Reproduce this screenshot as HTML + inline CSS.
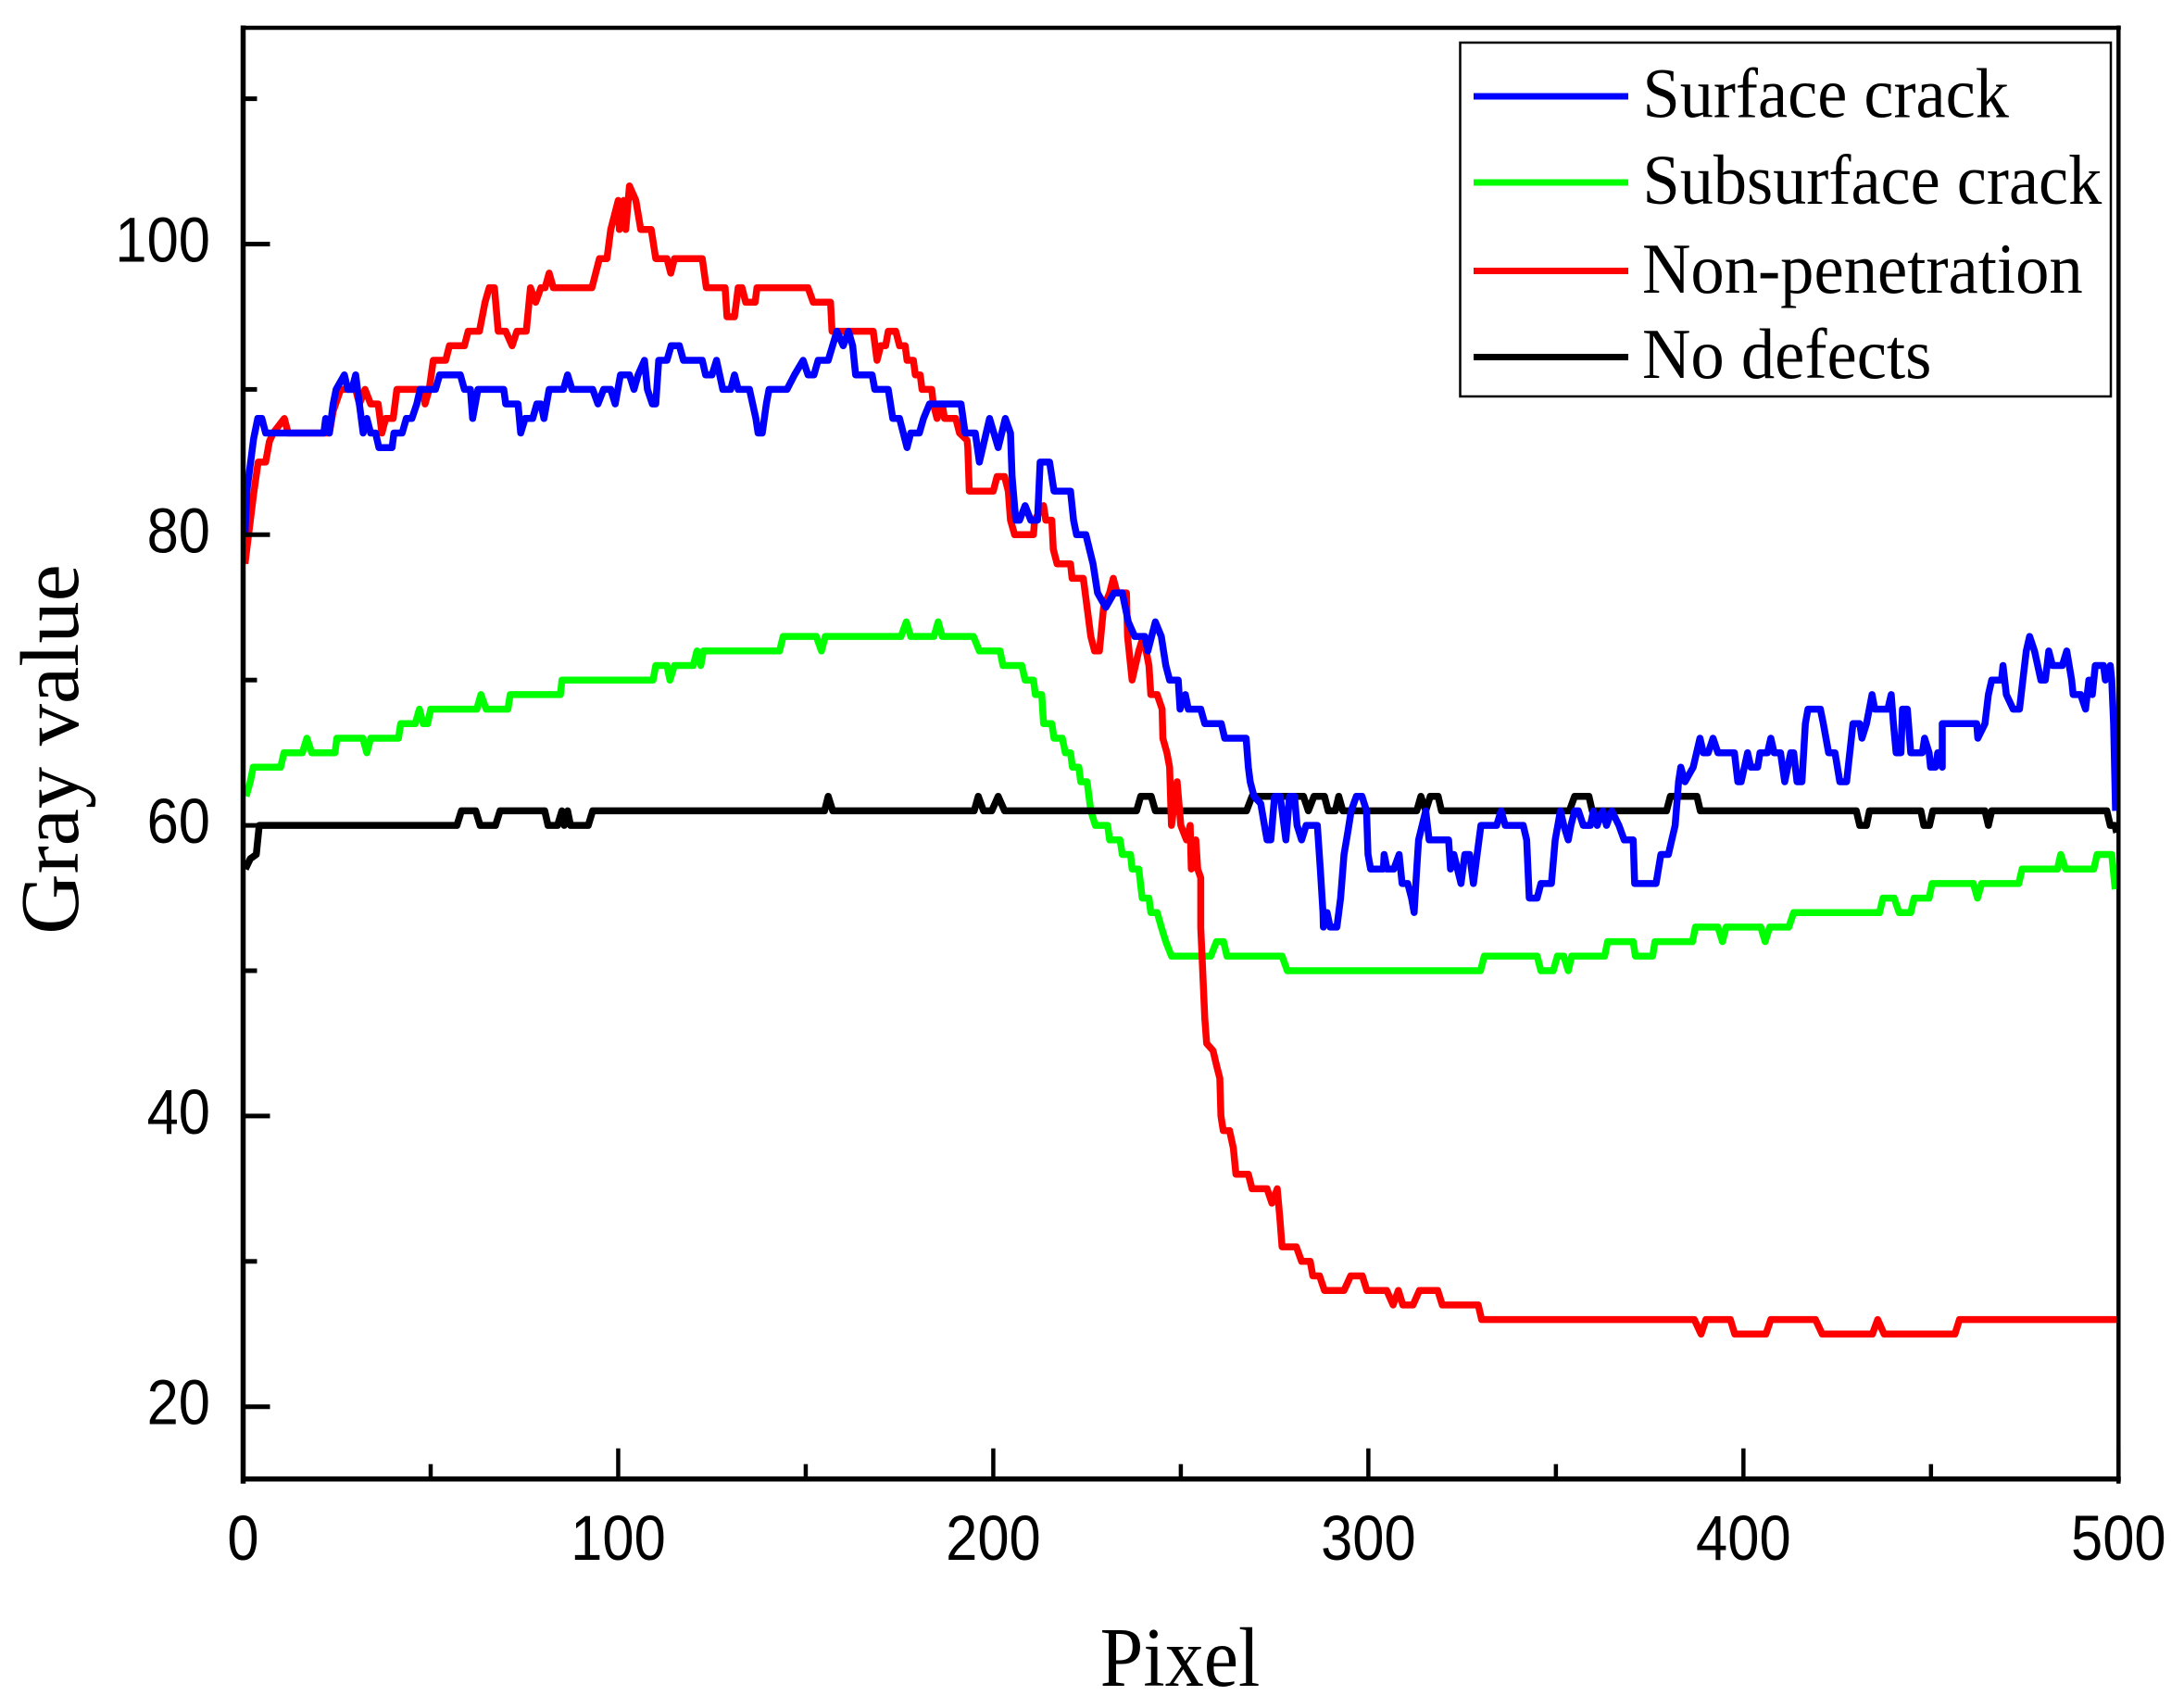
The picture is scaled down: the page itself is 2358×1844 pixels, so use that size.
<!DOCTYPE html>
<html lang="en">
<head>
<meta charset="utf-8">
<title>Gray value by pixel</title>
<style>
html,body{margin:0;padding:0;background:#fff;}
svg{display:block;}
</style>
</head>
<body>
<svg id="chart" xmlns="http://www.w3.org/2000/svg" width="2358" height="1844" viewBox="0 0 2358 1844">
<rect x="0" y="0" width="2358" height="1844" fill="#fff"/>
<g id="series-layer"></g>
<g id="axes-layer"></g>
<g id="labels-layer"></g>
<text transform="translate(1274,1820) scale(1,1.09)" text-anchor="middle" font-family="'Liberation Serif',serif" font-size="84" fill="#000">Pixel</text>
<text transform="translate(84,809) rotate(-90)" text-anchor="middle" font-family="'Liberation Serif',serif" font-size="90.5" fill="#000">Gray value</text>
<g>
<rect x="1576.5" y="46" width="702.5" height="382" fill="#fff" stroke="#000" stroke-width="2.5"/>
<line x1="1591" x2="1758" y1="104" y2="104" stroke="#0000ff" stroke-width="7"/>
<text transform="translate(1773.5,126.5) scale(1,1.06)" font-family="'Liberation Serif',serif" font-size="72.3" fill="#000">Surface crack</text>
<line x1="1591" x2="1758" y1="197" y2="197" stroke="#00ff00" stroke-width="7"/>
<text transform="translate(1773.5,220) scale(1,1.06)" font-family="'Liberation Serif',serif" font-size="72.3" fill="#000">Subsurface crack</text>
<line x1="1591" x2="1758" y1="292.5" y2="292.5" stroke="#ff0000" stroke-width="7"/>
<text transform="translate(1773,316) scale(1,1.06)" font-family="'Liberation Serif',serif" font-size="72.6" fill="#000">Non-penetration</text>
<line x1="1591" x2="1758" y1="385.5" y2="385.5" stroke="#000000" stroke-width="7"/>
<text transform="translate(1773,408) scale(1,1.06)" font-family="'Liberation Serif',serif" font-size="72.6" fill="#000">No defects</text>
</g>
</svg>
<script>
var xMajorTicks = [0, 100, 200, 300, 400, 500];
var xMinorTicks = [50, 150, 250, 350, 450];
var yMajorTicks = [20, 40, 60, 80, 100];
var yMinorTicks = [30, 50, 70, 90, 110];

var surfaceCrack = [[0.5,80],[1,83],[2,85],[2.8,86.6],[3.9,88],[5,88],[6,87],[21.5,87],[22,88],[23,87],[24,89],[24.8,90],[27,91],[27.9,90],[29,90],[30,91],[31,89],[32,87],[33,88],[34,87],[35.3,87],[36.2,86],[39.7,86],[40.2,87],[42.4,87],[43.5,88],[45,88],[46.3,89],[47.2,90],[51.3,90],[52.4,91],[57.9,91],[59,90],[60.6,90],[61.2,88],[62.6,90],[69.5,90],[70,89],[73.3,89],[74,87],[75.2,88],[77.2,88],[78.3,89],[79.4,89],[80.2,88],[81.6,90],[85.4,90],[86.5,91],[87.7,90],[93.2,90],[94.6,89],[96.1,90],[98,90],[99.2,89],[100.6,91],[103,91],[104.2,90],[105.3,91],[107,92],[107.8,90],[109.1,89],[110,89],[110.8,92],[113,92],[114.1,93],[116.3,93],[117.4,92],[122.4,92],[123.3,91],[125,91],[126.2,92],[127.9,90],[130,90],[131,91],[132,90],[135,90],[136.7,88],[137.3,87],[138.4,87],[139.5,89],[140.2,90],[145,90],[147,91],[149.3,92],[150.6,91],[152.2,91],[153.3,92],[156,92],[158.3,94],[160,93],[161.4,94],[162.5,93],[163.3,91],[167.7,91],[168.4,90],[172,90],[173.2,88],[175,88],[177,86],[178,87],[180.3,87],[181.4,88],[183,89],[191.4,89],[192.5,87],[195.2,87],[196.3,85],[199,88],[201.3,86],[203.2,88],[204.6,87],[205,84],[206,81],[207,81],[208.5,82],[210,81],[211.8,81],[212.5,85],[215,85],[216.2,83],[220.6,83],[221.4,81],[222.2,80],[224.7,80],[226.6,78],[227.8,76],[230,75],[232.2,76],[234.4,76],[236,74],[237.7,73],[240.4,73],[241.2,72],[243.2,74],[244.8,73],[246,71],[247,70],[249.3,70],[249.8,68],[251.2,69],[252,68],[255.3,68],[256.4,67],[260.8,67],[261.7,66],[267.4,66],[268,64],[268.5,63],[269.5,62],[271.3,61.5],[272.3,60],[273,59],[274,59],[275,62],[276.5,62],[278,59],[279,62],[280.3,62],[281,60],[282.2,59],[283.4,60],[286.4,60],[287.2,57],[287.9,54],[288,53],[289,54],[289.8,53],[291.6,53],[292.6,55],[293.5,58],[294.5,59.5],[295.4,61],[296.8,62],[298.3,62],[299.5,61],[299.9,58],[300.6,57],[304,57],[304.2,58],[305,57],[306.8,57],[308.2,58],[309,56],[310.5,56],[311.5,55],[312.2,54],[312.9,57],[313.4,59],[315.3,61],[316.2,59],[317,59],[321.4,59],[321.9,57],[322.8,58],[324.7,56],[325.7,58],[327,58],[328,56],[329,58],[330,60],[334.2,60],[335.4,61],[336.5,60],[341.3,60],[342.2,59],[342.9,55],[345,55],[346,56],[348.8,56],[349.8,59],[351.2,61],[352.1,60],[353.3,59],[354,60],[355,61],[356,61],[357.3,60],[359.2,60],[360,61],[361,60],[362.5,61],[363.5,60],[364.9,61],[366.8,60],[368.2,59],[370.6,59],[371,56],[376.7,56],[378,58],[380,58],[381.8,60],[382.7,63],[383.3,64],[384.4,63],[386.6,64],[388.4,66],[389.3,65],[390.6,65],[391.9,66],[393.2,65],[397.6,65],[398.5,63],[399.4,63],[401.1,65],[402,64],[403.8,64],[404.4,65],[406.4,65],[407.3,66],[408.2,65],[409.9,65],[411,63],[412.6,65],[413.4,65],[414.3,63],[415.6,63],[416.5,67],[417.2,68],[420.5,68],[421.3,67],[422.7,65],[424.4,65],[425.7,63],[427.5,63],[429.2,67],[431,67],[431.6,66],[432.8,67],[434.3,69],[435,68],[438.5,68],[439.4,69],[440,67],[440.7,65],[442,65],[442.4,68],[443.7,68],[444.6,65],[447.7,65],[448.3,66],[449.5,65],[449.9,64],[451.2,64],[451.8,65],[453,64],[453,67],[462.2,67],[462.5,66],[464.4,67],[465.3,69],[466.2,70],[468.8,70],[469.2,71],[470.1,69],[471.9,68],[473.6,68],[474.5,70],[475.4,72],[476.3,73],[477.6,72],[479.3,70],[480.5,70],[481.4,72],[482.4,71],[485,71],[486.2,72],[487.5,70],[487.9,69],[489.9,69],[491.2,68],[492.1,70],[493,69],[493.8,71],[496,71],[496.5,70],[497.8,71],[498.2,70],[498.7,67],[499.2,61]];

var subsurfaceCrack = [[0.8,62],[1.9,63],[2.7,64],[10,64],[10.9,65],[15.8,65],[17,66],[18.3,65],[24.5,65],[25,66],[31.9,66],[33,65],[34,66],[41.4,66],[42,67],[45.9,67],[47,68],[48,67],[49.2,67],[50,68],[62.3,68],[63.4,69],[64.8,68],[70.6,68],[71.2,69],[84.6,69],[85,70],[109.3,70],[110,71],[113,71],[113.8,70],[115,71],[120,71],[121,72],[122,71],[122.7,72],[143,72],[144,73],[152.8,73],[154.2,72],[155.2,73],[175.4,73],[176.8,74],[178,73],[184.2,73],[185.3,74],[186.4,73],[194.7,73],[196.3,72],[201.8,72],[202.6,71],[207.6,71],[208.5,70],[210.7,70],[211.2,69],[212.9,69],[213.4,67],[215.6,67],[216.2,66],[218.4,66],[219.2,65],[220.6,65],[221.1,64],[222.8,64],[223.3,63],[225,63],[226,61],[227.2,60],[230.5,60],[231,59],[233.8,59],[234.4,58],[236.6,58],[237,57],[238.8,57],[239.7,55],[241.5,55],[242,54],[243.7,54],[244.8,53],[246,52],[247.5,51],[258,51],[259.5,52],[261.4,52],[262.3,51],[277,51],[278.4,50],[329.9,50],[330.9,51],[345,51],[346,50],[349.3,50],[350.4,51],[352.1,51],[353.3,50],[354.2,51],[363,51],[363.8,52],[370.6,52],[371.2,51],[375.8,51],[376.4,52],[386.4,52],[387.2,53],[393.2,53],[394.4,52],[395.4,53],[404.6,53],[405.8,52],[407,53],[412.1,53],[413.4,54],[436.3,54],[437.2,55],[440.2,55],[441.5,54],[444.6,54],[445.5,55],[449.5,55],[450.3,56],[461.3,56],[462.4,55],[463.5,56],[473.4,56],[474.3,57],[483.7,57],[484.6,58],[485.9,57],[493.4,57],[494.3,58],[498.2,58],[499.1,55.6]];

var nonPenetration = [[0.5,78],[2.8,82.8],[4,85],[6,85],[7,86.4],[8,87],[11,88],[12,87],[22,87],[23,87],[24,88.5],[26,90],[30,90],[31,89],[32.5,90],[34,89],[36,89],[37,87],[38,88],[40,88],[41,90],[48,90],[48.5,89],[49.6,90],[50.7,92],[54,92],[55,93],[59,93],[60,94],[63,94],[64.5,96],[65.6,97],[67,97],[68,94],[70,94],[71.7,93],[73,94],[75.5,94],[76.6,97],[78,96],[79.4,97],[80.5,97],[81.6,98],[82.7,97],[93,97],[95,99],[97,99],[98,101],[100,103],[100.3,101],[101.5,103],[102,101],[103,104],[104.7,103],[106,101],[108.8,101],[110,99],[113,99],[114,98],[115,99],[122.4,99],[123.5,97],[128.5,97],[129,95],[131,95],[132,97],[133,97],[134,96],[136.5,96],[137,97],[150.6,97],[152,96],[156.6,96],[157,94],[168,94],[169,92],[170,93],[171.3,93],[172,94],[174,94],[175,93],[176.5,93],[177,92],[178.7,92],[179.2,91],[180.5,91],[181,90],[183.6,90],[184,89],[185,88],[186.4,89],[187,88],[190,88],[191,87],[193,86.5],[193.2,86],[193.6,83],[200,83],[201,84],[203,84],[204,83],[204.6,81],[205.7,80],[210.7,80],[211,81],[213.4,82],[214,81],[215.6,81],[216,79],[217,78],[220.6,78],[221,77],[224,77],[225,75],[226,73],[227,72],[228.3,72],[229.4,75],[231,76],[232,77],[233,76],[235.5,76],[235.8,73],[237,70],[238.8,72],[240,73],[241.5,71],[242,69],[243.7,69],[245,68],[245.2,66],[246.3,65],[247,64],[247.5,60],[249,63],[250,60],[251.5,59],[252.5,60],[252.8,57],[254,59],[254.5,57],[255.3,56.4],[255.3,53],[256.4,46.7],[256.9,45],[258.6,44.5],[259.5,43.5],[260.4,42.6],[260.7,40],[261.3,39],[263,39],[264,37.8],[264.7,36],[268,36],[269,35],[273,35],[274.3,34],[275.7,35],[276.4,33],[277,31],[280.8,31],[282.2,30],[284.5,30],[285.2,29],[287,29],[288.3,28],[293.5,28],[295.3,29],[298.4,29],[299.6,28],[304.9,28],[306.6,27],[308,28],[309.2,27],[311.9,27],[313.6,28],[318.5,28],[319.7,27],[329.3,27],[330.2,26],[386.9,26],[388.7,25],[390,26],[396.5,26],[397.7,25],[406,25],[407.3,26],[419.2,26],[421,25],[434.4,25],[435.8,26],[437.5,25],[456.4,25],[457.6,26],[499.5,26]];

var noDefects = [[0.6,57],[1.9,57.7],[3.5,58],[3.9,59],[4.3,60],[57,60],[58.2,61],[62,61],[63.2,60],[67.3,60],[68.5,61],[80.4,61],[81.3,60],[83.8,60],[85,61],[85.6,60],[86.5,61],[87.3,60],[92,60],[93.2,61],[155,61],[156,62],[157.2,61],[194.9,61],[196,62],[197.4,61],[199.6,61],[201.3,62],[203,61],[238.2,61],[239.3,62],[242.1,62],[243.2,61],[267.5,61],[269,62],[282.7,62],[284,61],[285.5,62],[288.3,62],[289.3,61],[291.2,61],[292.1,62],[293.2,61],[312.9,61],[314,62],[315.3,61],[316.5,62],[318.6,62],[319.5,61],[353.6,61],[355,62],[358.8,62],[359.7,61],[379.5,61],[380.5,62],[387.6,62],[388.5,61],[430.1,61],[431,60],[432.8,60],[433.6,61],[447.3,61],[448.1,60],[449.6,60],[450.5,61],[464.4,61],[465.3,60],[466.2,61],[496.9,61],[497.8,60],[499,60],[499.5,59.5]];

var svgNS = 'http://www.w3.org/2000/svg';
var plotLeft = 262.5, plotRight = 2287.3, plotBottom = 1596.7, plotTop = 30;

function xScale(v) { return plotLeft + v * (plotRight - plotLeft) / 500; }
function yScale(v) { return 1518.7 - (v - 20) * 15.69; }

function pathFrom(points) {
  var d = '';
  for (var i = 0; i < points.length; i++) {
    d += (i ? 'L' : 'M') + xScale(points[i][0]).toFixed(1) + ' ' + yScale(points[i][1]).toFixed(1);
  }
  return d;
}

function drawSeries(points, color, name) {
  var p = document.createElementNS(svgNS, 'path');
  p.setAttribute('d', pathFrom(points));
  p.setAttribute('fill', 'none');
  p.setAttribute('stroke', color);
  p.setAttribute('stroke-width', '7.5');
  p.setAttribute('stroke-linejoin', 'round');
  
  
  document.getElementById('series-layer').appendChild(p);
}

function drawLine(x1, y1, x2, y2, w, name) {
  var l = document.createElementNS(svgNS, 'line');
  l.setAttribute('x1', x1);
  l.setAttribute('y1', y1);
  l.setAttribute('x2', x2);
  l.setAttribute('y2', y2);
  l.setAttribute('stroke', '#000');
  l.setAttribute('stroke-width', w);
  
  
  document.getElementById('axes-layer').appendChild(l);
}

function drawLabel(text, x, y, anchor, name) {
  var t = document.createElementNS(svgNS, 'text');
  t.setAttribute('transform', 'translate(' + x + ',' + y + ') scale(1,1.12)');
  t.setAttribute('text-anchor', anchor);
  t.setAttribute('font-family', '"Liberation Sans", sans-serif');
  t.setAttribute('font-size', '61.5');
  t.setAttribute('fill', '#000');
  
  
  t.textContent = text;
  document.getElementById('labels-layer').appendChild(t);
}

drawSeries(subsurfaceCrack, '#00ff00', 'series-subsurface-crack');
drawSeries(noDefects, '#000000', 'series-no-defects');
drawSeries(nonPenetration, '#ff0000', 'series-non-penetration');
drawSeries(surfaceCrack, '#0000ff', 'series-surface-crack');

drawLine(plotLeft, plotTop - 2.5, plotLeft, plotBottom + 5, 5.5, 'y-axis-line');
drawLine(plotLeft - 2.5, plotBottom, plotRight + 2.5, plotBottom, 5.5, 'x-axis-line');
drawLine(plotRight, plotTop - 2.5, plotRight, plotBottom + 5, 4.5, 'right-border');
drawLine(plotLeft - 2.5, plotTop, plotRight + 2.5, plotTop, 4.5, 'top-border');

xMajorTicks.forEach(function (v) {
  drawLine(xScale(v), plotBottom, xScale(v), plotBottom - 33, 4.5, 'x-major-tick');
  drawLabel(String(v), xScale(v), 1684, 'middle', 'x-tick-label');
});
xMinorTicks.forEach(function (v) {
  drawLine(xScale(v), plotBottom, xScale(v), plotBottom - 16, 4.5, 'x-minor-tick');
});
yMajorTicks.forEach(function (v) {
  drawLine(plotLeft, yScale(v), plotLeft + 29, yScale(v), 5, 'y-major-tick');
  drawLabel(String(v), 227, yScale(v) + 19, 'end', 'y-tick-label');
});
yMinorTicks.forEach(function (v) {
  drawLine(plotLeft, yScale(v), plotLeft + 15, yScale(v), 5, 'y-minor-tick');
});
</script>
</body>
</html>
